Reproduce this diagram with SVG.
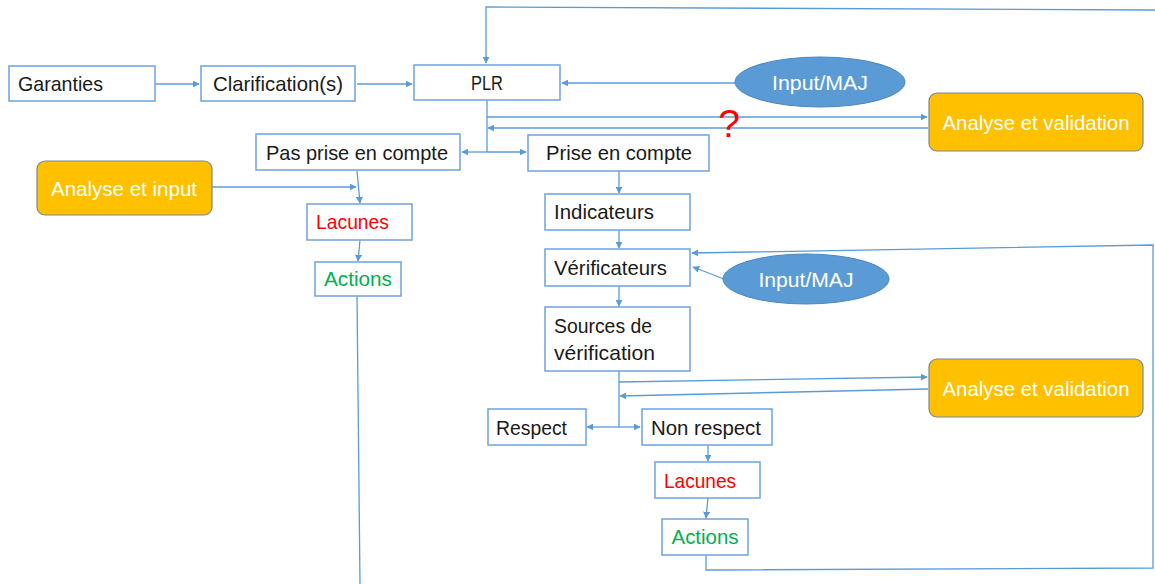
<svg xmlns="http://www.w3.org/2000/svg" width="1155" height="584" viewBox="0 0 1155 584">
<style>
.box{fill:#fff;stroke:#6FA3DA;stroke-width:1.5}
.org{fill:#FFC000;stroke:#7C8696;stroke-width:1.2}
.ell{fill:#5B9BD5;stroke:#4A86C0;stroke-width:1}
.t{font-family:"Liberation Sans",Arial,sans-serif;font-size:21px;fill:#1a1a1a}
.w{fill:#fff}
.red{fill:#FF0000}
.grn{fill:#00B050}
.c{fill:none;stroke:#5B9BD5;stroke-width:1.3}
.a{marker-end:url(#ah)}
</style>
<defs>
<marker id="ah" viewBox="0 0 10 10" refX="9" refY="5" markerWidth="7" markerHeight="7" markerUnits="userSpaceOnUse" orient="auto">
<path d="M0,0 L10,5 L0,10 z" fill="#5B9BD5"/>
</marker>
</defs>
<g id="connectors">
<polyline class="c a" points="1155,10 486,7 486,63"/>
<line class="c a" x1="155" y1="84" x2="199" y2="84"/>
<line class="c a" x1="357" y1="84" x2="412" y2="84"/>
<line class="c a" x1="735" y1="83" x2="562" y2="83"/>
<polyline class="c" points="487,100 487,152"/>
<line class="c a" x1="487" y1="117" x2="927" y2="117"/>
<line class="c a" x1="928" y1="128" x2="488" y2="128"/>
<line class="c a" x1="487" y1="152" x2="462" y2="152"/>
<line class="c a" x1="487" y1="152" x2="526" y2="152"/>
<line class="c a" x1="212" y1="187" x2="356" y2="187"/>
<line class="c a" x1="357" y1="171" x2="360" y2="203"/>
<line class="c a" x1="360" y1="240" x2="358" y2="261"/>
<line class="c" x1="357" y1="296" x2="360" y2="584"/>
<line class="c a" x1="619" y1="171" x2="619" y2="193"/>
<line class="c a" x1="619" y1="230" x2="619" y2="248"/>
<line class="c a" x1="724" y1="279" x2="693" y2="267"/>
<polyline class="c a" points="706,555 706,570 1153,568 1153,245 692,253"/>
<line class="c a" x1="619" y1="286" x2="619" y2="306"/>
<polyline class="c" points="619,371 619,427"/>
<line class="c a" x1="619" y1="382" x2="927" y2="377"/>
<line class="c a" x1="928" y1="389" x2="620" y2="396"/>
<line class="c a" x1="619" y1="427" x2="587" y2="427"/>
<line class="c a" x1="619" y1="427" x2="640" y2="427"/>
<line class="c a" x1="708" y1="445" x2="708" y2="461"/>
<line class="c a" x1="708" y1="498" x2="706" y2="518"/>
</g>
<g id="garanties"><rect class="box" x="9" y="66" width="146" height="35"/><text class="t" x="18" y="91" textLength="85" lengthAdjust="spacingAndGlyphs">Garanties</text></g>
<g id="clarification"><rect class="box" x="201" y="66" width="154" height="35"/><text class="t" x="213" y="91" textLength="130" lengthAdjust="spacingAndGlyphs">Clarification(s)</text></g>
<g id="plr"><rect class="box" x="414" y="65" width="146" height="35"/><text class="t" x="487" y="90" text-anchor="middle" textLength="32" lengthAdjust="spacingAndGlyphs">PLR</text></g>
<g id="input-maj-1"><ellipse class="ell" cx="820" cy="82" rx="85" ry="25"/><text class="t w" x="820" y="90" text-anchor="middle" textLength="96" lengthAdjust="spacingAndGlyphs">Input/MAJ</text></g>
<g id="analyse-validation-1"><rect class="org" x="929" y="93" width="214" height="58" rx="8"/><text class="t w" x="1036" y="130" text-anchor="middle" textLength="187" lengthAdjust="spacingAndGlyphs">Analyse et validation</text></g>
<g id="question"><text x="729" y="137" text-anchor="middle" style="font-family:'Liberation Sans',Arial,sans-serif;font-size:39px;fill:#FF0000">?</text></g>
<g id="pas-prise"><rect class="box" x="256" y="134" width="204" height="36"/><text class="t" x="266" y="160" textLength="182" lengthAdjust="spacingAndGlyphs">Pas prise en compte</text></g>
<g id="prise"><rect class="box" x="528" y="135" width="181" height="36"/><text class="t" x="546" y="160" textLength="146" lengthAdjust="spacingAndGlyphs">Prise en compte</text></g>
<g id="analyse-input"><rect class="org" x="37" y="161" width="175" height="54" rx="8"/><text class="t w" x="124" y="196" text-anchor="middle" textLength="146" lengthAdjust="spacingAndGlyphs">Analyse et input</text></g>
<g id="lacunes-1"><rect class="box" x="307" y="204" width="105" height="36"/><text class="t red" x="316" y="229" textLength="73" lengthAdjust="spacingAndGlyphs">Lacunes</text></g>
<g id="actions-1"><rect class="box" x="315" y="262" width="86" height="34"/><text class="t grn" x="358" y="286" text-anchor="middle" textLength="68" lengthAdjust="spacingAndGlyphs">Actions</text></g>
<g id="indicateurs"><rect class="box" x="545" y="194" width="145" height="36"/><text class="t" x="554" y="219" textLength="100" lengthAdjust="spacingAndGlyphs">Indicateurs</text></g>
<g id="verificateurs"><rect class="box" x="545" y="249" width="145" height="37"/><text class="t" x="554" y="275" textLength="113" lengthAdjust="spacingAndGlyphs">Vérificateurs</text></g>
<g id="input-maj-2"><ellipse class="ell" cx="806" cy="279" rx="83" ry="25"/><text class="t w" x="806" y="287" text-anchor="middle" textLength="95" lengthAdjust="spacingAndGlyphs">Input/MAJ</text></g>
<g id="sources"><rect class="box" x="545" y="307" width="145" height="64"/><text class="t" x="554" y="333" textLength="98" lengthAdjust="spacingAndGlyphs">Sources de</text><text class="t" x="554" y="360" textLength="101" lengthAdjust="spacingAndGlyphs">vérification</text></g>
<g id="analyse-validation-2"><rect class="org" x="929" y="359" width="214" height="58" rx="8"/><text class="t w" x="1036" y="396" text-anchor="middle" textLength="187" lengthAdjust="spacingAndGlyphs">Analyse et validation</text></g>
<g id="respect"><rect class="box" x="488" y="409" width="98" height="36"/><text class="t" x="496" y="435" textLength="71" lengthAdjust="spacingAndGlyphs">Respect</text></g>
<g id="non-respect"><rect class="box" x="642" y="409" width="130" height="36"/><text class="t" x="651" y="435" textLength="110" lengthAdjust="spacingAndGlyphs">Non respect</text></g>
<g id="lacunes-2"><rect class="box" x="655" y="462" width="105" height="36"/><text class="t red" x="664" y="488" textLength="72" lengthAdjust="spacingAndGlyphs">Lacunes</text></g>
<g id="actions-2"><rect class="box" x="662" y="519" width="86" height="36"/><text class="t grn" x="705" y="544" text-anchor="middle" textLength="67" lengthAdjust="spacingAndGlyphs">Actions</text></g>
</svg>
